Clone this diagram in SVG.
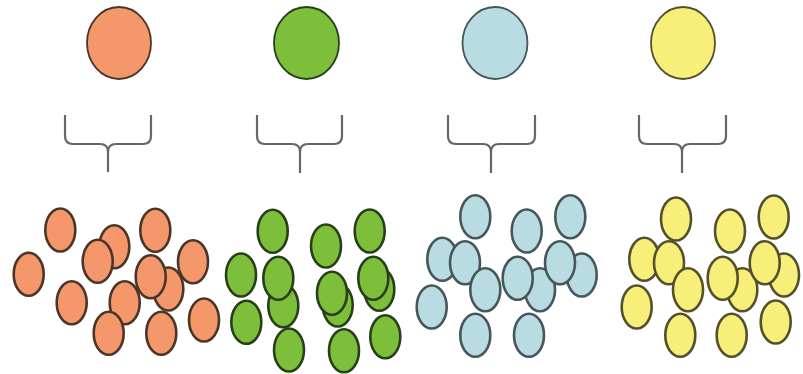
<svg xmlns="http://www.w3.org/2000/svg" width="803" height="374" viewBox="0 0 803 374">
<style>
.o{fill:#F4976A;stroke:#4a3529;stroke-width:2.6}
.g{fill:#7DBF3A;stroke:#28401a;stroke-width:2.6}
.b{fill:#B9DCE2;stroke:#46565a;stroke-width:2.6}
.y{fill:#F8EE7A;stroke:#53502c;stroke-width:2.6}
.big{stroke-width:1.8}
.br{fill:none;stroke:#666;stroke-width:2.2;stroke-linejoin:round}
</style>
<defs>
<ellipse id="e" cx="0" cy="0" rx="15" ry="21.5"/>
</defs>
<rect width="803" height="374" fill="#fff"/>
<g id="orange-parent"><ellipse class="o big" cx="119" cy="43" rx="32" ry="36"/></g>
<g id="green-parent"><ellipse class="g big" cx="306.5" cy="43" rx="32.5" ry="36"/></g>
<g id="blue-parent"><ellipse class="b big" cx="495" cy="43" rx="32.5" ry="36"/></g>
<g id="yellow-parent"><ellipse class="y big" cx="683" cy="43" rx="32" ry="36"/></g>
<g id="connectors">
<path class="br" d="M65,115 V136 Q65,144 73,144 H100 Q108,144 108,152 V172 M151,115 V136 Q151,144 143,144 H116 Q108,144 108,152"/>
<path class="br" d="M257,115 V136 Q257,144 265,144 H292 Q300,144 300,152 V173 M342,115 V136 Q342,144 334,144 H308 Q300,144 300,152"/>
<path class="br" d="M448,115 V136 Q448,144 456,144 H483 Q491,144 491,152 V173 M535,115 V136 Q535,144 527,144 H499 Q491,144 491,152"/>
<path class="br" d="M639,115 V136 Q639,144 647,144 H674 Q682,144 682,152 V173 M726,115 V136 Q726,144 718,144 H690 Q682,144 682,152"/>
</g>
<g id="orange-group" class="o">
<use href="#e" x="28.7" y="274.3"/>
<use href="#e" x="60.3" y="230"/>
<use href="#e" x="155.3" y="230.3"/>
<use href="#e" x="114.3" y="246.7"/>
<use href="#e" x="97.7" y="261.3"/>
<use href="#e" x="193" y="261.7"/>
<use href="#e" x="71.7" y="302.7"/>
<use href="#e" x="124.7" y="302.7"/>
<use href="#e" x="168.3" y="289"/>
<use href="#e" x="150.7" y="276.7"/>
<use href="#e" x="108.7" y="333.3"/>
<use href="#e" x="161.3" y="333.3"/>
<use href="#e" x="204" y="320"/>
</g>
<g id="green-group" class="g">
<use href="#e" x="272.7" y="231.3"/>
<use href="#e" x="326" y="246"/>
<use href="#e" x="369.7" y="231"/>
<use href="#e" x="241" y="275"/>
<use href="#e" x="283.3" y="305.7"/>
<use href="#e" x="278.3" y="278.3"/>
<use href="#e" x="246.3" y="322.3"/>
<use href="#e" x="289" y="350"/>
<use href="#e" x="337.7" y="305"/>
<use href="#e" x="332" y="293.3"/>
<use href="#e" x="379.3" y="289.3"/>
<use href="#e" x="373.3" y="278.3"/>
<use href="#e" x="344" y="350.7"/>
<use href="#e" x="385.3" y="336.7"/>
</g>
<g id="blue-group" class="b">
<use href="#e" x="475.3" y="216.7"/>
<use href="#e" x="526.7" y="231"/>
<use href="#e" x="570.3" y="216.7"/>
<use href="#e" x="442.3" y="259.3"/>
<use href="#e" x="465" y="262.7"/>
<use href="#e" x="485.3" y="289.7"/>
<use href="#e" x="431.7" y="307"/>
<use href="#e" x="540" y="289.7"/>
<use href="#e" x="517.7" y="278.3"/>
<use href="#e" x="581.7" y="275"/>
<use href="#e" x="560" y="262.7"/>
<use href="#e" x="475.3" y="335.3"/>
<use href="#e" x="529" y="335.3"/>
</g>
<g id="yellow-group" class="y">
<use href="#e" x="676" y="219"/>
<use href="#e" x="730" y="231"/>
<use href="#e" x="773.7" y="217"/>
<use href="#e" x="644.3" y="259.3"/>
<use href="#e" x="669" y="262.7"/>
<use href="#e" x="688" y="289.7"/>
<use href="#e" x="636.7" y="307"/>
<use href="#e" x="742.3" y="289.7"/>
<use href="#e" x="722.7" y="278.3"/>
<use href="#e" x="784" y="275"/>
<use href="#e" x="764.7" y="262.7"/>
<use href="#e" x="680.3" y="335.3"/>
<use href="#e" x="731.7" y="335.3"/>
<use href="#e" x="775.7" y="322"/>
</g>
</svg>
